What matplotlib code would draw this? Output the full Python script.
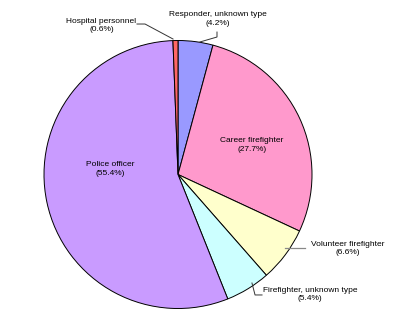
import matplotlib
matplotlib.use("Agg")
import matplotlib.pyplot as plt

# Responder categories, clockwise from 12 o'clock
categories = ["Responder, unknown type", "Career firefighter", "Volunteer firefighter",
              "Firefighter, unknown type", "Police officer", "Hospital personnel"]
shares = [4.2, 27.7, 6.6, 5.4, 55.4, 0.6]
colors = ["#9999FF", "#FF99CC", "#FFFFCC", "#CCFFFF", "#C99BFF", "#FF6666"]

plt.rcParams["font.family"] = ["Liberation Sans", "DejaVu Sans"]

W, H = 397, 331
fig = plt.figure(figsize=(W / 100, H / 100), dpi=100)
cx, cy, r = 178, 174.5, 134
ax = fig.add_axes([(cx - r) / W, (H - cy - r) / H, 2 * r / W, 2 * r / H])

ax.pie(shares, colors=colors, startangle=90, counterclock=False, radius=1,
       normalize=True,
       wedgeprops=dict(edgecolor="black", linewidth=0.7))
ax.set_xlim(-1, 1)
ax.set_ylim(-1, 1)
ax.set_aspect("equal")
ax.axis("off")

labels = {c: f"{c}\n({v}%)" for c, v in zip(categories, shares)}
fs = 6
txt = dict(ha="center", va="center", fontsize=fs, linespacing=1.35, clip_on=False)

# labels inside the large wedges
ax.text(0.552, 0.220, labels["Career firefighter"], **txt)
ax.text(-0.507, 0.041, labels["Police officer"], **txt)

# labels outside with leader lines
ax.text(1.269, -0.552, labels["Volunteer firefighter"], **txt)
ax.plot([0.80, 0.948], [-0.548, -0.548], color="#888888", lw=0.9, clip_on=False)

ax.text(0.985, -0.896, labels["Firefighter, unknown type"], **txt)
ax.plot([0.552, 0.575, 0.627], [-0.810, -0.899, -0.899], color="#333333", lw=0.7,
        clip_on=False)

ax.text(0.299, 1.160, labels["Responder, unknown type"], **txt)
ax.plot([0.164, 0.291, 0.291], [0.989, 1.026, 1.063], color="#333333", lw=0.7,
        clip_on=False)

ax.text(-0.571, 1.112, labels["Hospital personnel"], **txt)
ax.plot([-0.306, -0.246, -0.037], [1.123, 1.123, 1.011], color="#333333", lw=0.7,
        clip_on=False)

fig.savefig("out.png", dpi=100)
